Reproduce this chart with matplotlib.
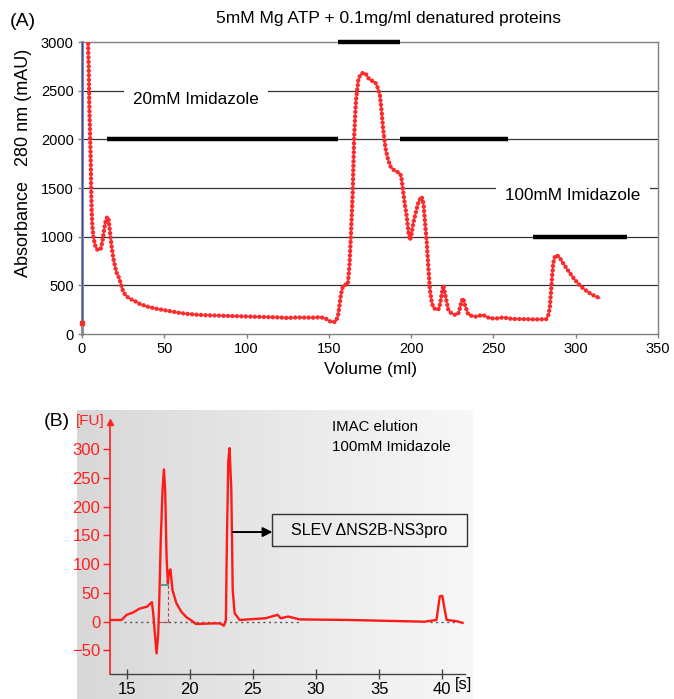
import matplotlib
matplotlib.use('Agg')
import matplotlib.pyplot as plt
import numpy as np
from matplotlib.patches import Rectangle

plt.rcParams['font.family'] = ['Liberation Sans', 'DejaVu Sans']

# ---- panel A: absorbance trace (volume ml, mAU) ----
vol_ml = [0.2, 0.4, 3.3, 3.8, 4.1, 4.25, 4.4, 4.9, 5.3, 5.5, 5.9, 6.3, 7, 8, 9, 10.3, 11.5, 12.5,
          13.5, 14.5, 15.4, 16.2, 17, 18, 19, 20, 21, 22, 23, 24, 25, 26, 27, 28, 30, 32, 35, 40,
          45, 50, 55, 60, 65, 70, 75, 80, 90, 100, 110, 120, 125, 130, 140, 145, 148, 150, 152,
          154, 155.5, 156.5, 157.5, 158.5, 160, 161.5, 162.5, 163.5, 164.5, 165.3, 166, 166.5,
          167.9, 169, 170.9, 172.5, 174, 175, 176.5, 178, 179.5, 181, 182, 183, 184.5, 186, 187.5,
          189, 191, 193, 194, 195, 196.2, 197.2, 198.5, 199.3, 200.3, 201.3, 203, 204.5, 206.4,
          207.5, 208.4, 209.4, 210.4, 211.4, 212.5, 213.5, 215.5, 217, 218, 219.5, 221, 222.6,
          224, 226, 227.6, 229, 230.5, 231.6, 232.8, 234.7, 237, 239.8, 242, 243.8, 246, 248, 252,
          256, 259, 262, 270, 276, 282, 283.5, 284.3, 285.3, 286.3, 287.3, 288.3, 290, 292.4, 295,
          298, 300.5, 303, 306, 308.6, 311, 314.7]
abs_mau = [110, 3600, 3600, 2910, 2735, 2550, 2385, 2060, 1778, 1550, 1257, 1103, 990, 910, 870,
           860, 880, 960, 1080, 1170, 1205, 1170, 1050, 900, 780, 700, 630, 600, 550, 490, 440,
           410, 390, 375, 355, 340, 310, 280, 260, 245, 230, 215, 205, 198, 193, 190, 185, 180,
           175, 170, 165, 170, 168, 172, 160, 135, 122, 125, 180, 300, 420, 490, 505, 510, 700,
           1050, 1450, 1990, 2250, 2400, 2610, 2660, 2686, 2670, 2630, 2610, 2600, 2590, 2540,
           2456, 2300, 2100, 1900, 1790, 1720, 1690, 1670, 1655, 1620, 1480, 1330, 1220, 1030,
           966, 1030, 1140, 1260, 1360, 1411, 1340, 1150, 966, 700, 452, 330, 270, 247, 260, 350,
           503, 380, 247, 220, 200, 195, 220, 330, 367, 290, 200, 185, 178, 190, 195, 175, 161,
           160, 171, 160, 155, 152, 150, 152, 200, 281, 500, 726, 790, 812, 790, 726, 660, 590,
           537, 490, 450, 418, 395, 367]

# buffer bars (start ml, end ml, level mAU)
bar_start = [15.2, 193, 274, 155.5]
bar_end = [155.5, 259, 331, 193]
bar_level = [2000, 2000, 1000, 3000]

# ---- panel B: electropherogram (time s, FU) ----
time_s = [13.7, 14.6, 15.0, 15.5, 16.05, 16.6, 17.0, 17.1, 17.23, 17.37, 17.5, 17.57, 17.7,
          17.84, 17.95, 18.05, 18.16, 18.26, 18.36, 18.47, 18.63, 18.94, 19.34, 19.73, 20.26,
          20.5, 21.8, 22.4, 22.7, 22.86, 22.94, 23.05, 23.15, 23.29, 23.4, 23.55, 23.94, 26.0,
          26.96, 27.2, 27.8, 28.7, 32.6, 38.6, 39.54, 39.8, 40.0, 40.2, 40.35, 41.1, 41.6]
fu = [3, 3, 12, 16, 23, 26, 34, 15, -20, -55, -20, 26, 142, 229, 265, 229, 113, 67, 87, 91, 55,
      32, 17, 8, 0, -4, -3, -3, -7, 3, 142, 281, 302, 229, 55, 15, 3, 6, 12, 6, 9, 4, 3, 0, 3,
      44, 45, 20, 3, 1, -2]

fig = plt.figure(figsize=(6.74, 6.99), dpi=100)
W, H = 674.0, 699.0

# ================= panel A =================
axA = fig.add_axes([82 / W, 1 - 334 / H, (658 - 82) / W, (334 - 42) / H])
axA.set_xlim(0, 350)
axA.set_ylim(0, 3000)
for yv in [500, 1000, 1500, 2000, 2500]:
    axA.axhline(yv, color='#333333', lw=0.9, zorder=1)

axA.plot(vol_ml, abs_mau, color='#3344cc', lw=0.8, zorder=3)
# red sample dots (not on the first injection spike)
axA.plot(vol_ml[2:], abs_mau[2:], color='#ff2a2a', lw=3.2, ls=(0, (0.01, 1.0)),
         dash_capstyle='round', zorder=4)
axA.plot(vol_ml[0], abs_mau[0], 's', color='#ff2a2a', ms=3.5, zorder=4, clip_on=False)

for x0, x1, lv in zip(bar_start, bar_end, bar_level):
    axA.plot([x0, x1], [lv, lv], color='black', lw=3.2, solid_capstyle='butt',
             clip_on=False, zorder=5)

axA.text(69.3, 2405, '20mM Imidazole', fontsize=12.3, ha='center', va='center', zorder=6,
         bbox=dict(boxstyle='square,pad=0.55', fc='white', ec='none'))
axA.text(298.3, 1428, '100mM Imidazole', fontsize=12.3, ha='center', va='center', zorder=6,
         bbox=dict(boxstyle='square,pad=0.55', fc='white', ec='none'))

for s in ['top', 'right', 'bottom']:
    axA.spines[s].set_color('#808080')
    axA.spines[s].set_linewidth(1.0)
axA.spines['left'].set_color('#909090')
axA.spines['left'].set_linewidth(2.2)
axA.set_xticks(np.arange(0, 351, 50))
axA.set_yticks(np.arange(0, 3001, 500))
axA.tick_params(axis='both', direction='out', length=3, width=1, color='#808080',
                labelsize=10.5, pad=3)
axA.set_xlabel('Volume (ml)', fontsize=12.5, labelpad=4)

fig.text(24 / W, 1 - 163 / H, 'Absorbance   280 nm (mAU)', rotation=90, fontsize=13,
         ha='center', va='center')
fig.text(388 / W, 1 - 18 / H, '5mM Mg ATP + 0.1mg/ml denatured proteins', fontsize=12.5,
         ha='center', va='center')
fig.text(10 / W, 1 - 21 / H, '(A)', fontsize=14, ha='left', va='center')

# ================= panel B =================
bg = fig.add_axes([77 / W, 0, (473 - 77) / W, (699 - 410) / H])
grad = np.linspace(0, 1, 256).reshape(1, -1)
bg.imshow(grad, aspect='auto', cmap=matplotlib.colors.LinearSegmentedColormap.from_list(
    'g', ['#d8d8d8', '#f8f8f8']), extent=[0, 1, 0, 1])
bg.set_axis_off()

axB = fig.add_axes([110 / W, 1 - 674 / H, (465 - 110) / W, (674 - 421.7) / H])
axB.patch.set_alpha(0)
axB.set_xlim(13.68, 41.8)
axB.set_ylim(-91, 348)

# baseline / peak markers
axB.plot([14.8, 28.8], [0, 0], color='#555555', lw=1.0, ls=(0, (1.5, 2.5)), zorder=2)
axB.plot([39.0, 41.0], [0, 0], color='#555555', lw=1.0, ls=(0, (1.5, 2.5)), zorder=2)
axB.plot([17.8, 18.3], [63, 63], color='#5a9a9a', lw=1.5, zorder=2)
axB.plot([18.3, 18.3], [63, 0], color='#d04040', lw=0.8, ls=(0, (3, 2)), zorder=2)
axB.plot([17.6, 18.3], [0, 0], color='#d04040', lw=0.8, ls=(0, (3, 2)), zorder=2)

axB.plot(time_s, fu, color='#ff1a1a', lw=1.7, zorder=3)

# label box with arrow
axB.add_patch(Rectangle((26.55, 132), 41.94 - 26.55, 187 - 132, fc='none', ec='#333333',
                        lw=1.0, clip_on=False, zorder=4))
axB.text((26.55 + 41.94) / 2, 159.5, 'SLEV \u0394NS2B-NS3pro', fontsize=11.5, ha='center',
         va='center', zorder=5)
axB.annotate('', xy=(26.55, 156), xytext=(23.39, 156),
             arrowprops=dict(arrowstyle='-|>', color='black', lw=1.4, mutation_scale=14,
                             shrinkA=0, shrinkB=0))

axB.spines['top'].set_visible(False)
axB.spines['right'].set_visible(False)
axB.spines['left'].set_color('#ff2020')
axB.spines['left'].set_linewidth(1.2)
axB.spines['bottom'].set_color('#444444')
axB.spines['bottom'].set_linewidth(1.0)
axB.plot([0], [1], marker='^', ms=5, color='#ff2020', transform=axB.transAxes, clip_on=False)

axB.set_yticks(np.arange(-50, 301, 50))
axB.set_xticks(np.arange(15, 41, 5))
axB.tick_params(axis='y', direction='out', length=5, width=1, color='#ff2020',
                labelcolor='#ff2020', labelsize=12, pad=2)
axB.tick_params(axis='x', direction='inout', length=7, width=1, color='#444444',
                labelsize=12, pad=2)

fig.text(90 / W, 1 - 421 / H, '[FU]', color='#ff2020', fontsize=11, ha='center', va='center')
fig.text(57 / W, 1 - 422 / H, '(B)', fontsize=14, ha='center', va='center')
fig.text(464 / W, 1 - 685 / H, '[s]', fontsize=12, ha='center', va='center')
fig.text(332 / W, 1 - 427 / H, 'IMAC elution', fontsize=10.8, ha='left', va='center')
fig.text(332 / W, 1 - 447 / H, '100mM Imidazole', fontsize=10.8, ha='left', va='center')

fig.savefig('out.png', dpi=100)
